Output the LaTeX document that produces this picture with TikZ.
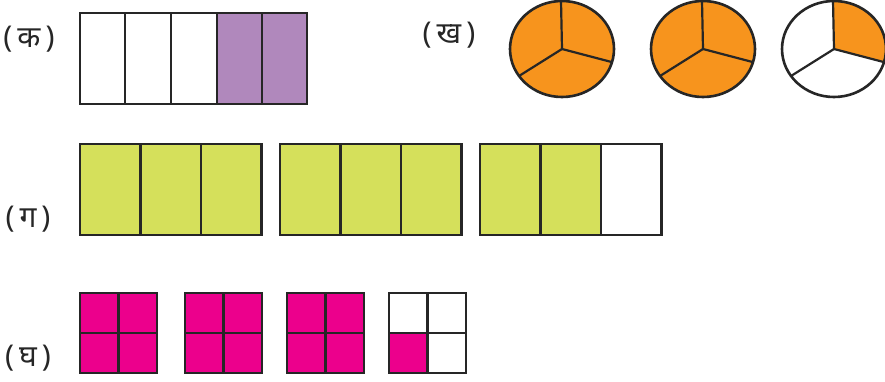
\documentclass[tikz,border=0pt]{standalone}
\usepackage{fontspec}
\newfontfamily\deva[Script=Devanagari]{Noto Sans}
\definecolor{pur}{HTML}{B088BC}
\definecolor{org}{HTML}{F7941D}
\definecolor{ylg}{HTML}{D5E05B}
\definecolor{mag}{HTML}{EC008C}
\begin{document}
\begin{tikzpicture}[x=1pt,y=-1pt,line join=miter,
  cell/.style={draw=black!85,line width=2.6pt},
  inner/.style={draw=black!85,line width=2.2pt},
  lbl/.style={font=\deva\fontsize{30}{34}\selectfont,inner sep=0pt,text=black!85}]
\useasboundingbox (0,0) rectangle (885,382);
% (ka)
\node[lbl] (la) at (29,39) {(\,क\,)};
\fill[pur] (217,13) rectangle (307,104);
\draw[cell] (80,13) rectangle (307,104);
\foreach \x in {125,171,217,262} \draw[inner] (\x,13) -- (\x,104);
% (kha)
\node[lbl] (lb) at (449,35) {(\,ख\,)};
\foreach \cx/\n in {562/3,703/3,834/1}{
  \begin{scope}[shift={(\cx,49)}]
    \coordinate (c) at (0,0);
    \coordinate (t) at (-1,-48);
    \coordinate (r) at (49.5,13);
    \coordinate (l) at (-43,27);
    \fill[white] (0,0) ellipse [x radius=52,y radius=48];
    \ifnum\n=3 \fill[org] (0,0) ellipse [x radius=52,y radius=48];\fi
    \ifnum\n=1 \fill[org] (c) -- (t) arc[start angle=-91,end angle=15.5,x radius=52,y radius=48] -- cycle;\fi
    \draw[cell] (0,0) ellipse [x radius=52,y radius=48];
    \draw[inner] (t) -- (c) -- (r) (c) -- (l);
  \end{scope}}
% (ga)
\node[lbl] (lc) at (28,219) {(\,ग\,)};
\foreach \x/\n in {80/3,280/3,480/2}{
  \fill[ylg] (\x,144) rectangle ++(\n*60.5,91);
  \draw[cell] (\x,144) rectangle ++(181.5,91);
  \draw[inner] (\x+60.5,144) -- ++(0,91) (\x+121,144) -- ++(0,91);}
% (gha)
\node[lbl] (ld) at (28,358) {(\,घ\,)};
\foreach \x/\n in {80/4,185/4,287/4,389/1}{
  \ifnum\n=4 \fill[mag] (\x,293) rectangle ++(77,80);\else
  \fill[mag] (\x,333) rectangle ++(38.5,40);\fi
  \draw[cell] (\x,293) rectangle ++(77,80);
  \draw[inner] (\x+38.5,293) -- ++(0,80) (\x,333) -- ++(77,0);}
\end{tikzpicture}
\end{document}
